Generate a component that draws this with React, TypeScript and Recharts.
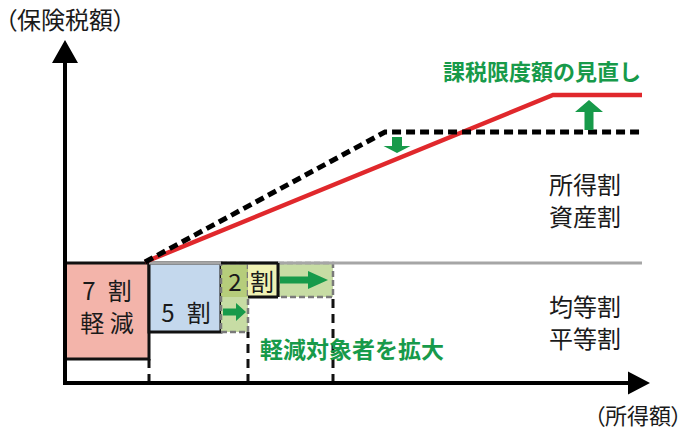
import React from 'react';
import {
  ComposedChart,
  XAxis,
  YAxis,
  Line,
  ReferenceArea,
  ReferenceLine,
  ReferenceDot,
} from 'recharts';

// Diagram units: u = 所得額, v = 保険税額, origin at the corner of the axes.
const U_MAX = 595;
const V_MAX = 353;

// 課税限度額: current (dashed) and revised (red)
const currentLimit = [
  { u: 80, v: 121 },
  { u: 320, v: 251 },
  { u: 577, v: 251 },
];
const revisedLimit = [
  { u: 80, v: 121 },
  { u: 488, v: 288 },
  { u: 577, v: 288 },
];

// 所得割・資産割 / 均等割・平等割 boundary
const flatRateLevel = { u1: 84, u2: 577, v: 120 };

// 軽減 boxes (existing)
const reductionBoxes = [
  { key: 'r7', u1: 0, u2: 84, v1: 24, v2: 120 },
  { key: 'r5', u1: 84, u2: 156, v1: 51, v2: 120 },
  { key: 'r2', u1: 183, u2: 213, v1: 86, v2: 120 },
];
// 軽減対象者を拡大 (extended parts)
const extendedBoxes = [
  { key: 'e5top', u1: 156, u2: 183, v1: 86, v2: 120 },
  { key: 'e5low', u1: 156, u2: 183, v1: 51, v2: 86 },
  { key: 'e2', u1: 213, u2: 268, v1: 86, v2: 120 },
];
const extendedOutlines = [
  { u1: 156, u2: 183, v1: 51, v2: 120 },
  { u1: 213, u2: 268, v1: 86, v2: 120 },
];
// dashed drops from the box edges to the 所得額 axis
const thresholdDrops = [
  { u: 84, v: 24 },
  { u: 183, v: 51 },
  { u: 268, v: 86 },
];

const greenArrows = [
  { from: { u: 332, v: 246 }, to: { u: 332, v: 230 }, shaft: 5, head: 13.5, len: 7 },
  { from: { u: 524, v: 253 }, to: { u: 524, v: 283 }, shaft: 4.5, head: 14, len: 12 },
  { from: { u: 215, v: 103 }, to: { u: 263, v: 103 }, shaft: 3.5, head: 9, len: 20 },
  { from: { u: 158, v: 71 }, to: { u: 181, v: 71 }, shaft: 3.5, head: 9, len: 10 },
];

const axisLabels = [
  { lines: ['（保険税額）'], u: 0, v: 365, size: 24 },
  { lines: ['（所得額）'], u: 573, v: -31, size: 22 },
];
const plainLabels = [
  { lines: ['所得割', '資産割'], u: 520, v: 184, size: 24 },
  { lines: ['均等割', '平等割'], u: 520, v: 62, size: 24 },
  { lines: ['7\u2002割', '軽 減'], u: 42, v: 78.5, size: 24 },
  { lines: ['5\u2002割'], u: 121, v: 72, size: 24 },
  { lines: ['2'], u: 170, v: 103, size: 24 },
  { lines: ['割'], u: 197, v: 103, size: 24 },
];
const greenLabels = [
  { lines: ['課税限度額の見直し'], u: 477, v: 313, size: 22 },
  { lines: ['軽減対象者を拡大'], u: 287, v: 35, size: 23 },
];

const boxFill: Record<string, string> = {
  r7: '#f3b4aa',
  r5: '#c4d8ed',
  r2: '#eff1b3',
  e5top: '#b6cd7b',
  e5low: '#c7dca4',
  e2: '#c7dca4',
};

const FONT = "'Noto Sans CJK JP', 'Noto Sans', sans-serif";
const GREEN = '#179a4a';
const LINE_GAP = 32;

const arrowShape = (color: string, shaft: number, head: number, len: number) => (props: any) => {
  const { x1, y1, x2, y2 } = props;
  const dx = x2 - x1;
  const dy = y2 - y1;
  const d = Math.hypot(dx, dy) || 1;
  const ux = dx / d;
  const uy = dy / d;
  const nx = -uy;
  const ny = ux;
  const bx = x2 - ux * len;
  const by = y2 - uy * len;
  const pts = [
    [x1 + nx * shaft, y1 + ny * shaft],
    [bx + nx * shaft, by + ny * shaft],
    [bx + nx * head, by + ny * head],
    [x2, y2],
    [bx - nx * head, by - ny * head],
    [bx - nx * shaft, by - ny * shaft],
    [x1 - nx * shaft, y1 - ny * shaft],
  ];
  return <polygon points={pts.map((p) => p.join(',')).join(' ')} fill={color} />;
};

const textShape =
  (lines: string[], size: number, color: string, bold: boolean, palt = false) =>
  (props: any) => (
    <text
      x={props.cx}
      y={props.cy}
      textAnchor="middle"
      dominantBaseline="central"
      fontFamily={FONT}
      fontSize={size}
      fontWeight={bold ? 700 : 400}
      fill={color}
      style={palt ? { fontFeatureSettings: '"palt"' } : undefined}
    >
      {lines.map((line, i) => (
        <tspan
          key={i}
          x={props.cx}
          dy={i === 0 ? (-(lines.length - 1) / 2) * LINE_GAP : LINE_GAP}
          dominantBaseline="central"
        >
          {line}
        </tspan>
      ))}
    </text>
  );

export default function App() {
  return (
    <div style={{ position: 'absolute', left: 0, top: 0, background: '#fff' }}>
      <ComposedChart width={687} height={430} margin={{ top: 30, right: 27, bottom: 47, left: 65 }}>
        <XAxis type="number" dataKey="u" domain={[0, U_MAX]} hide allowDataOverflow />
        <YAxis type="number" dataKey="v" domain={[0, V_MAX]} hide allowDataOverflow />

        <ReferenceLine
          segment={[
            { x: flatRateLevel.u1, y: flatRateLevel.v },
            { x: flatRateLevel.u2, y: flatRateLevel.v },
          ]}
          stroke="#a6a6a6"
          strokeWidth={3}
          ifOverflow="visible"
        />

        {reductionBoxes.slice(0, 2).map((b) => (
          <ReferenceArea
            key={b.key}
            x1={b.u1}
            x2={b.u2}
            y1={b.v1}
            y2={b.v2}
            fill={boxFill[b.key]}
            fillOpacity={1}
            stroke="#111"
            strokeWidth={3}
            ifOverflow="visible"
          />
        ))}
        {extendedBoxes.map((b) => (
          <ReferenceArea
            key={b.key}
            x1={b.u1}
            x2={b.u2}
            y1={b.v1}
            y2={b.v2}
            fill={boxFill[b.key]}
            fillOpacity={1}
            stroke="none"
            ifOverflow="visible"
          />
        ))}
        {extendedOutlines.map((b, i) => (
          <ReferenceArea
            key={`o${i}`}
            x1={b.u1}
            x2={b.u2}
            y1={b.v1}
            y2={b.v2}
            fill="none"
            fillOpacity={0}
            stroke="#7a7a7a"
            strokeWidth={2.5}
            strokeDasharray="6 3"
            ifOverflow="visible"
          />
        ))}
        {reductionBoxes.slice(2).map((b) => (
          <ReferenceArea
            key={b.key}
            x1={b.u1}
            x2={b.u2}
            y1={b.v1}
            y2={b.v2}
            fill={boxFill[b.key]}
            fillOpacity={1}
            stroke="none"
            ifOverflow="visible"
          />
        ))}
        {/* black frame of the 2割 box (top, right, bottom) */}
        <ReferenceLine
          segment={[{ x: 156, y: 120 }, { x: 213, y: 120 }]}
          stroke="#111"
          strokeWidth={3}
          ifOverflow="visible"
        />
        <ReferenceLine
          segment={[{ x: 213, y: 120 }, { x: 213, y: 86 }]}
          stroke="#111"
          strokeWidth={3}
          ifOverflow="visible"
        />
        <ReferenceLine
          segment={[{ x: 183, y: 86 }, { x: 213, y: 86 }]}
          stroke="#111"
          strokeWidth={3}
          ifOverflow="visible"
        />

        {thresholdDrops.map((t, i) => (
          <ReferenceLine
            key={`d${i}`}
            segment={[{ x: t.u, y: 0 }, { x: t.u, y: t.v }]}
            stroke="#111"
            strokeWidth={3}
            strokeDasharray="9 6"
            ifOverflow="visible"
          />
        ))}

        <Line
          data={revisedLimit}
          dataKey="v"
          type="linear"
          stroke="#e0282c"
          strokeWidth={4.5}
          dot={false}
          activeDot={false}
          isAnimationActive={false}
        />
        <Line
          data={currentLimit}
          dataKey="v"
          type="linear"
          stroke="#000"
          strokeWidth={5}
          strokeDasharray="9 5"
          dot={false}
          activeDot={false}
          isAnimationActive={false}
        />

        {/* axes */}
        <ReferenceLine
          segment={[{ x: 0, y: 0 }, { x: 0, y: 343 }]}
          shape={arrowShape('#000', 2, 13, 23)}
          ifOverflow="visible"
        />
        <ReferenceLine
          segment={[{ x: -2, y: 0 }, { x: 585, y: 0 }]}
          shape={arrowShape('#000', 2, 11.5, 22)}
          ifOverflow="visible"
        />

        {greenArrows.map((a, i) => (
          <ReferenceLine
            key={`g${i}`}
            segment={[{ x: a.from.u, y: a.from.v }, { x: a.to.u, y: a.to.v }]}
            shape={arrowShape(GREEN, a.shaft, a.head, a.len)}
            ifOverflow="visible"
          />
        ))}

        {axisLabels.map((l, i) => (
          <ReferenceDot
            key={`a${i}`}
            x={l.u}
            y={l.v}
            ifOverflow="visible"
            shape={textShape(l.lines, l.size, '#1a1a1a', false, true)}
          />
        ))}
        {plainLabels.map((l, i) => (
          <ReferenceDot
            key={`t${i}`}
            x={l.u}
            y={l.v}
            ifOverflow="visible"
            shape={textShape(l.lines, l.size, '#1a1a1a', false)}
          />
        ))}
        {greenLabels.map((l, i) => (
          <ReferenceDot
            key={`gt${i}`}
            x={l.u}
            y={l.v}
            ifOverflow="visible"
            shape={textShape(l.lines, l.size, GREEN, true)}
          />
        ))}
      </ComposedChart>
    </div>
  );
}
